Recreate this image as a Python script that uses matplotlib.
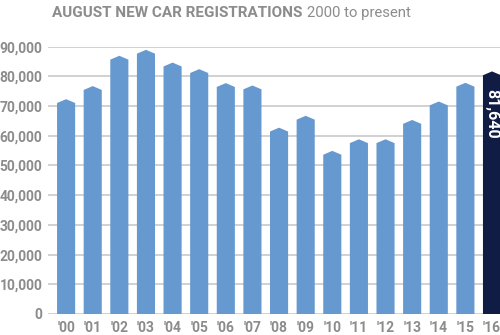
import matplotlib.pyplot as plt

# August new car registrations, 2000-2016
years = ["'00", "'01", "'02", "'03", "'04", "'05", "'06", "'07", "'08",
         "'09", "'10", "'11", "'12", "'13", "'14", "'15", "'16"]
registrations = [72300, 76700, 86900, 88900, 84600, 82400, 77700, 76900, 62700,
                 66700, 54900, 58800, 58800, 65300, 71500, 77800, 81640]
yticks = [0, 10000, 20000, 30000, 40000, 50000, 60000, 70000, 80000, 90000]

blue = '#6699d0'
navy = '#101c44'
grey = '#8c8c8c'

plt.rcParams['font.family'] = ['Roboto', 'DejaVu Sans']

fig = plt.figure(figsize=(5.0, 3.35), dpi=100)
ax = fig.add_axes([0.096, 0.0627, 0.904, 0.7983])

width = 0.68
cap = 1300  # height of the pointed top
for i, v in enumerate(registrations):
    col = navy if i == len(registrations) - 1 else blue
    l, r = i - width / 2, i + width / 2
    # bar body with a pointed roof
    ax.fill([l, l, i, r, r], [0, v - cap, v, v - cap, 0],
            color=col, zorder=2, linewidth=0, clip_on=False)

ax.text(len(registrations) - 1, registrations[-1] - 5800, f'{registrations[-1]:,}',
        rotation=270, color='white', fontsize=11.5, fontweight='bold',
        ha='center', va='top', zorder=3)

ax.set_xlim(-0.68, 16.3)
ax.set_ylim(0, 90000)
ax.set_yticks(yticks)
ax.set_yticklabels([f'{t:,}' for t in yticks])
ax.set_xticks(range(len(years)))
ax.set_xticklabels(years)
ax.yaxis.grid(True, color='#c9c9c9', linewidth=1.2, zorder=0)
ax.set_axisbelow(True)
ax.tick_params(axis='both', length=0, colors=grey, labelsize=10)
ax.tick_params(axis='y', pad=4)
ax.tick_params(axis='x', pad=5)
for lab in ax.get_xticklabels() + ax.get_yticklabels():
    lab.set_fontweight('bold')
for s in ax.spines.values():
    s.set_visible(False)

t1 = fig.text(0.104, 0.962, 'AUGUST NEW CAR REGISTRATIONS', color=grey,
              fontsize=11, fontweight='bold', va='center', ha='left')
ax.annotate('2000 to present', xy=(1, 0.5), xycoords=t1, xytext=(3.5, 0),
            textcoords='offset points', color=grey, fontsize=10.7,
            va='center', ha='left', annotation_clip=False)

fig.savefig('out.png', dpi=100)
